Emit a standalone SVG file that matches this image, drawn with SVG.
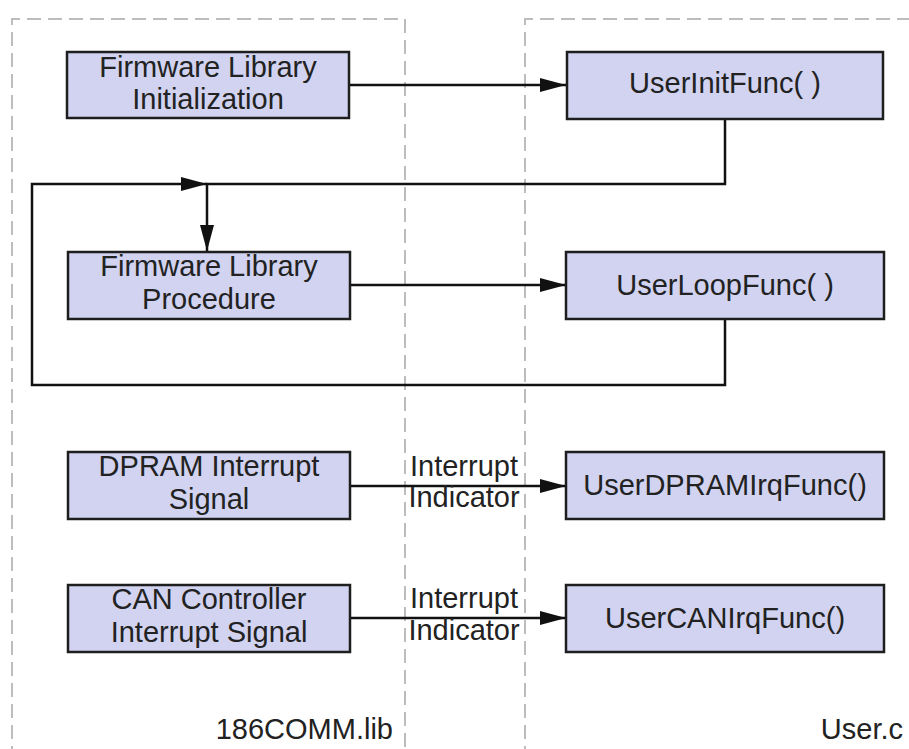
<svg xmlns="http://www.w3.org/2000/svg" width="909" height="749" viewBox="0 0 909 749">
<style>
.box{fill:#d1d3f0;stroke:#1e1e1e;stroke-width:2.5}
.t{font-family:"Liberation Sans",Arial,sans-serif;font-size:29px;fill:#222;text-anchor:middle}
.te{font-family:"Liberation Sans",Arial,sans-serif;font-size:29px;fill:#222;text-anchor:end}
.dash{fill:none;stroke:#bdbdbd;stroke-width:2;stroke-dasharray:14 7}
.c{fill:none;stroke:#111;stroke-width:2.5}
</style>
<defs>
<marker id="ah" viewBox="0 0 26 14" refX="26" refY="7" markerWidth="26" markerHeight="14" markerUnits="userSpaceOnUse" orient="auto">
<path d="M0,0 L26,7 L0,14 Z" fill="#111"/>
</marker>
</defs>
<rect width="909" height="749" fill="#fff"/>
<g id="regions">
<path class="dash" d="M12,760 V19 H405 V760"/>
<path class="dash" d="M525,760 V19 H920"/>
<text class="te" x="393" y="739">186COMM.lib</text>
<text class="te" x="903" y="739">User.c</text>
</g>
<g id="connectors">
<line class="c" x1="349" y1="85" x2="566" y2="85" marker-end="url(#ah)"/>
<polyline class="c" points="725,119 725,184 207,184 207,251" marker-end="url(#ah)"/>
<polyline class="c" points="725,319 725,385 32,385 32,184 207,184" marker-end="url(#ah)"/>
<line class="c" x1="350" y1="285" x2="566" y2="285" marker-end="url(#ah)"/>
<line class="c" x1="350" y1="486" x2="566" y2="486" marker-end="url(#ah)"/>
<line class="c" x1="350" y1="618" x2="566" y2="618" marker-end="url(#ah)"/>
<text class="t" x="464" y="476">Interrupt</text>
<text class="t" x="464" y="507">Indicator</text>
<text class="t" x="464" y="608">Interrupt</text>
<text class="t" x="464" y="640">Indicator</text>
</g>
<g id="fl-init">
<rect class="box" x="67" y="52" width="282" height="66"/>
<text class="t" x="208" y="77">Firmware Library</text>
<text class="t" x="208" y="109">Initialization</text>
</g>
<g id="user-init">
<rect class="box" x="567" y="52" width="316" height="67"/>
<text class="t" x="725" y="93">UserInitFunc( )</text>
</g>
<g id="fl-proc">
<rect class="box" x="68" y="252" width="282" height="67"/>
<text class="t" x="209" y="276">Firmware Library</text>
<text class="t" x="209" y="309">Procedure</text>
</g>
<g id="user-loop">
<rect class="box" x="566" y="252" width="318" height="67"/>
<text class="t" x="725" y="295">UserLoopFunc( )</text>
</g>
<g id="dpram">
<rect class="box" x="68" y="452" width="282" height="67"/>
<text class="t" x="209" y="476">DPRAM Interrupt</text>
<text class="t" x="209" y="509">Signal</text>
</g>
<g id="user-dpram">
<rect class="box" x="566" y="452" width="318" height="67"/>
<text class="t" x="725" y="495">UserDPRAMIrqFunc()</text>
</g>
<g id="can">
<rect class="box" x="68" y="585" width="282" height="67"/>
<text class="t" x="209" y="609">CAN Controller</text>
<text class="t" x="209" y="642">Interrupt Signal</text>
</g>
<g id="user-can">
<rect class="box" x="566" y="585" width="318" height="67"/>
<text class="t" x="725" y="628">UserCANIrqFunc()</text>
</g>
</svg>
